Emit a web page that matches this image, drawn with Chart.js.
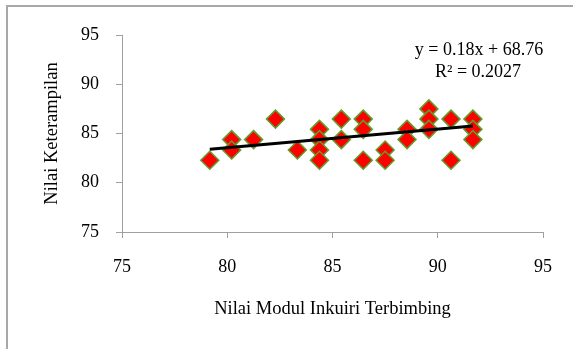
<!DOCTYPE html>
<html>
<head>
<meta charset="utf-8">
<script src="https://cdn.jsdelivr.net/npm/chart.js@4"></script>
<style>
  html, body { margin: 0; padding: 0; background: #fff; }
  #wrap { position: relative; width: 573px; height: 349px; overflow: hidden; }
  #frame { position: absolute; left: 6px; top: 5px; width: 600px; height: 400px;
           border-left: 2px solid #a8a8a8; border-top: 2px solid #a8a8a8; box-sizing: border-box; pointer-events: none; }
  canvas { position: absolute; left: 0; top: 0; }
</style>
</head>
<body>
<div id="wrap">
  <canvas id="c" width="573" height="349"></canvas>
  <div id="frame"></div>
</div>
<script>
// Data
const xValues = [79.17, 80.21, 80.21, 81.25, 82.29, 83.33, 84.38, 84.38, 84.38, 84.38,
                 85.42, 85.42, 86.46, 86.46, 86.46, 87.5, 87.5, 88.54, 88.54,
                 89.58, 89.58, 89.58, 90.63, 90.63, 91.67, 91.67, 91.67];
const yValues = [82.29, 84.38, 83.33, 84.38, 86.46, 83.33, 85.42, 84.38, 83.33, 82.29,
                 86.46, 84.38, 86.46, 85.42, 82.29, 83.33, 82.29, 85.42, 84.38,
                 87.5, 86.46, 85.42, 86.46, 82.29, 86.46, 85.42, 84.38];
// trendline end values as drawn in the picture
const trendX = [79.17, 91.67];
const trendY = [83.4, 85.76];
const xTicks = [75, 80, 85, 90, 95];
const yTicks = [75, 80, 85, 90, 95];
const equationLines = ['y = 0.18x + 68.76', 'R\u00B2 = 0.2027'];
const xTitle = 'Nilai Modul Inkuiri Terbimbing';
const yTitle = 'Nilai Keterampilan';

const trend = trendX.map((x, i) => ({ x, y: trendY[i] }));
const points = xValues.map((x, i) => ({ x, y: yValues[i] }));
const FONT = "'Liberation Serif', 'Times New Roman', serif";
const AXIS = '#a0a0a0';

const eqPlugin = {
  id: 'eq',
  afterDatasetsDraw(chart) {
    const { ctx, chartArea } = chart;
    ctx.save();
    ctx.font = '18px ' + FONT;
    ctx.fillStyle = '#000';
    ctx.textAlign = 'center';
    ctx.textBaseline = 'middle';
    const cx = chartArea.right - 64;
    ctx.fillText(equationLines[0], cx, chartArea.top + 15);
    ctx.fillText(equationLines[1], cx - 1, chartArea.top + 37);
    ctx.restore();
  }
};

new Chart(document.getElementById('c'), {
  type: 'scatter',
  data: {
    datasets: [
      {
        type: 'line',
        data: trend,
        borderColor: '#000',
        borderWidth: 3,
        pointRadius: 0,
        fill: false,
        order: 0
      },
      {
        data: points,
        pointStyle: 'rectRot',
        pointRadius: 9,
        pointHoverRadius: 9,
        backgroundColor: '#ff0000',
        borderColor: '#5e9e2c',
        borderWidth: 1.5,
        order: 1
      }
    ]
  },
  plugins: [eqPlugin],
  options: {
    responsive: false,
    animation: false,
    events: [],
    layout: { padding: { top: 35, right: 30, left: 0, bottom: 0 } },
    plugins: { legend: { display: false }, tooltip: { enabled: false } },
    scales: {
      x: {
        type: 'linear',
        min: 75, max: 95,
        afterFit(s) { s.height = 117; },
        afterBuildTicks(s) { s.ticks = xTicks.map(v => ({ value: v })); },
        grid: { drawOnChartArea: false, drawTicks: true, tickLength: 6, color: AXIS },
        border: { display: true, color: AXIS, width: 1 },
        ticks: { padding: 18, color: '#000', font: { family: FONT, size: 18 }, maxRotation: 0 },
        title: { display: true, text: xTitle, color: '#000', font: { family: FONT, size: 18.5 }, padding: { top: 0, bottom: 29 } }
      },
      y: {
        type: 'linear',
        min: 75, max: 95,
        afterFit(s) { s.width = 122; },
        afterBuildTicks(s) { s.ticks = yTicks.map(v => ({ value: v })); },
        grid: { drawOnChartArea: false, drawTicks: true, tickLength: 6, color: AXIS },
        border: { display: true, color: AXIS, width: 1 },
        ticks: { padding: 17, color: '#000', font: { family: FONT, size: 18 } },
        title: { display: true, text: yTitle, color: '#000', font: { family: FONT, size: 18.5 }, padding: { top: 41, bottom: 0 } }
      }
    }
  }
});
</script>
</body>
</html>
